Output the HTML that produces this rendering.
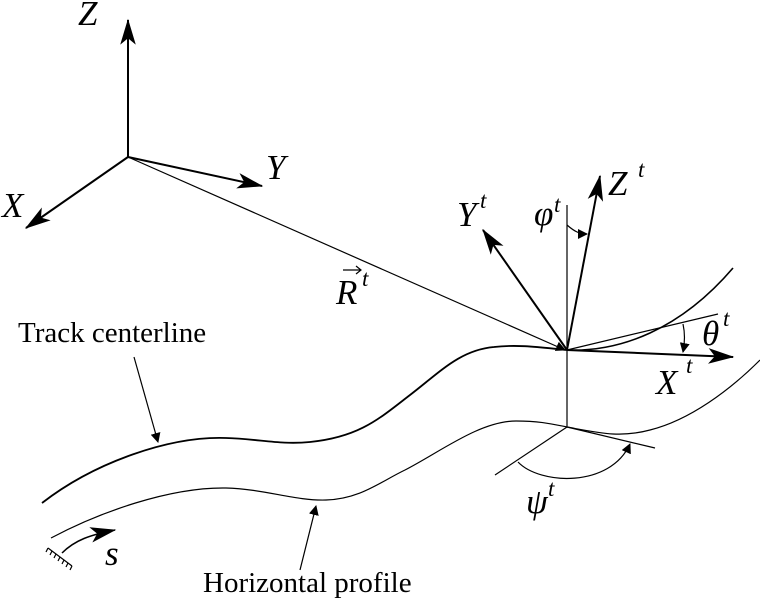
<!DOCTYPE html>
<html><head><meta charset="utf-8"><style>body{margin:0;background:#fff}svg{display:block}text{font-family:"Liberation Serif",serif;fill:#000}.m{font-style:italic;font-size:35px}.s{font-style:italic;font-size:23px}.l{font-size:29px}</style></head><body>
<svg width="760" height="600" viewBox="0 0 760 600" xmlns="http://www.w3.org/2000/svg">
<defs>
<marker id="a" viewBox="0 0 10 10" refX="9" refY="5" markerWidth="10" markerHeight="10" markerUnits="userSpaceOnUse" orient="auto"><path d="M0,0 L10,5 L0,10 z"/></marker>
<marker id="b" viewBox="0 0 20 12" refX="19" refY="6" markerWidth="26" markerHeight="16" markerUnits="userSpaceOnUse" orient="auto"><path d="M0,0 L20,6 L0,12 L5,6 z"/></marker>
</defs>
<g fill="none" stroke="#000" stroke-width="1.5">
<line x1="128" y1="157" x2="128" y2="20" marker-end="url(#b)" stroke-width="2"/>
<line x1="128" y1="157" x2="26" y2="228" marker-end="url(#b)" stroke-width="2"/>
<line x1="128" y1="157" x2="262" y2="186" marker-end="url(#b)" stroke-width="2"/>
<line x1="128" y1="157" x2="565" y2="350" marker-end="url(#a)" stroke-width="1.2"/>
<line x1="567" y1="205" x2="567" y2="427" stroke-width="1.2"/>
<line x1="567" y1="350" x2="600" y2="176" marker-end="url(#b)" stroke-width="2"/>
<line x1="567" y1="350" x2="483" y2="230" marker-end="url(#b)" stroke-width="2"/>
<line x1="567" y1="350" x2="733" y2="357" marker-end="url(#b)" stroke-width="2"/>
<line x1="567" y1="350" x2="718" y2="314" stroke-width="1.2"/>
<path d="M567,350 C620,352 680,330 733,268" stroke-width="1.6"/>
<path d="M42,503 C95,462 170,436 226,438 C260,439 280,445 310,442 C360,437 380,418 410,395 C440,372 460,350 494,347 C520,344 545,348 567,350" stroke-width="1.8"/>
<path d="M51,538 C100,512 170,487 226,488 C265,489 295,501 326,500 C360,499 380,482 405,470 C440,452 480,421 516,421 C540,421 552,424 567,427 C600,433 620,438 650,430 C690,420 730,390 760,360" stroke-width="1.2"/>
<line x1="567" y1="427" x2="655" y2="448" stroke-width="1.2"/>
<line x1="567" y1="427" x2="495" y2="475" stroke-width="1.2"/>
<path d="M518,462 C540,485 610,488 630,444" stroke-width="1.2" marker-end="url(#a)"/>
<path d="M567,225 C575,232 580,234 587,234" stroke-width="1.2" marker-end="url(#a)"/>
<path d="M683,324 C685,333 685,342 683,352" stroke-width="1.2" marker-end="url(#a)"/>
<line x1="134" y1="357" x2="158" y2="442" stroke-width="1.2" marker-end="url(#a)"/>
<line x1="300" y1="570" x2="316" y2="506" stroke-width="1.2" marker-end="url(#a)"/>
<path d="M62,553 C75,540 90,535 115,530" stroke-width="1.5" marker-end="url(#b)"/>
<path d="M48,548 L72,566 M48,548 L46,552 M52,551 L50,555 M56,554 L54,558 M60,557 L58,561 M64,560 L62,564 M68,563 L66,567 M72,566 L70,570" stroke-width="1.2"/>
<path d="M343,270 L360,270 M356,266 L361,270 L356,274" stroke-width="1.2"/>
</g>
<text class="m" x="78" y="25">Z</text>
<text class="m" x="266" y="179">Y</text>
<text class="m" x="2" y="217">X</text>
<text class="m" x="336" y="304">R</text><text class="s" x="362" y="286">t</text>
<text class="m" x="457" y="226">Y</text><text class="s" x="480" y="208">t</text>
<text class="m" x="534" y="225">φ</text><text class="s" x="554" y="212">t</text>
<text class="m" x="608" y="195">Z</text><text class="s" x="638" y="177">t</text>
<text class="m" x="702" y="345">θ</text><text class="s" x="723" y="326">t</text>
<text class="m" x="656" y="394">X</text><text class="s" x="686" y="373">t</text>
<text class="m" x="526" y="513">ψ</text><text class="s" x="548" y="496">t</text>
<text class="m" x="105" y="565">s</text>
<text class="l" x="18" y="342">Track centerline</text>
<text class="l" x="203" y="592">Horizontal profile</text>
</svg>
</body></html>
